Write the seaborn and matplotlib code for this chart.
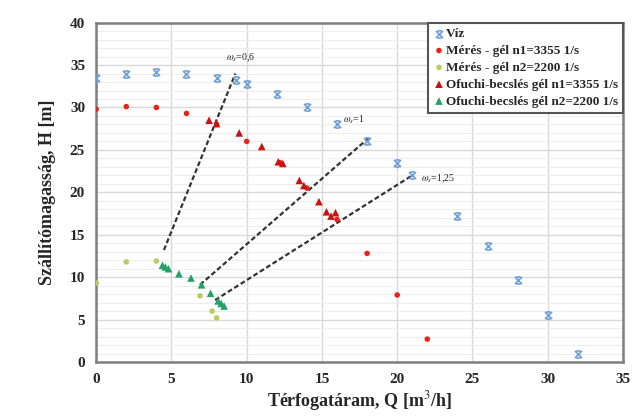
import matplotlib
matplotlib.use("Agg")
import matplotlib.pyplot as plt
import seaborn as sns
import numpy as np
import pandas as pd
from matplotlib.ticker import MultipleLocator
from matplotlib.path import Path

# ---- data ----
viz_q = [0, 2, 4, 6, 8, 9.3, 10, 12, 14, 16, 18, 20, 21, 24, 26, 28, 30, 32]
viz_h = [33.5, 34.0, 34.2, 34.0, 33.5, 33.2, 32.8, 31.6, 30.1, 28.1, 26.0, 23.5, 22.0, 17.2, 13.7, 9.7, 5.5, 0.9]

m1_q = [0, 2, 4, 6, 8, 10, 12.2, 14, 16, 18, 20, 22]
m1_h = [29.8, 30.1, 30.0, 29.3, 28.0, 26.0, 23.5, 20.5, 16.8, 12.8, 7.9, 2.7]

m2_q = [0, 2, 4, 6.9, 7.7, 8.0]
m2_h = [9.3, 11.8, 11.9, 7.8, 6.0, 5.2]

o1_q = [7.5, 8.0, 9.5, 11.0, 12.1, 12.4, 13.5, 13.8, 14.8, 15.3, 15.6, 15.9]
o1_h = [28.5, 28.1, 27.0, 25.4, 23.6, 23.4, 21.4, 20.8, 18.9, 17.7, 17.2, 17.6]

o2_q = [4.4, 4.6, 4.8, 5.5, 6.3, 7.0, 7.6, 8.1, 8.3, 8.5]
o2_h = [11.4, 11.2, 11.0, 10.4, 9.9, 9.1, 8.1, 7.2, 6.9, 6.6]

omega_labels = [r"$\omega_s$=0,6", r"$\omega_s$=1", r"$\omega_s$=1,25"]
omega_q = [[4.5, 9.25], [6.9, 18.1], [7.9, 21.0]]
omega_h = [[13.2, 34.0], [9.1, 26.4], [7.3, 22.0]]
omega_text_pos = [(8.6, 35.8), (16.4, 28.6), (21.6, 21.6)]

series_names = ["Víz", "Mérés - gél n1=3355 1/s", "Mérés - gél n2=2200 1/s",
                "Ofuchi-becslés gél n1=3355 1/s", "Ofuchi-becslés gél n2=2200 1/s"]

# x marker with short caps at top and bottom (Excel-like)
hourglass = Path(
    [(-1, -1), (1, 1), (-1, 1), (1, -1), (-0.6, 1), (0.6, 1), (-0.6, -1), (0.6, -1)],
    [Path.MOVETO, Path.LINETO, Path.MOVETO, Path.LINETO,
     Path.MOVETO, Path.LINETO, Path.MOVETO, Path.LINETO])

sns.set_theme(style="white")
plt.rcParams["font.family"] = ["Liberation Serif", "DejaVu Serif"]
plt.rcParams["mathtext.fontset"] = "stix"

fig = plt.figure(figsize=(6.37, 4.19), dpi=100)
ax = fig.add_axes([0.151, 0.136, 0.827, 0.810])

specs = [
    (viz_q, viz_h, hourglass, "#6f9fd8", 26),
    (m1_q, m1_h, "o", "#e8231c", 16),
    (m2_q, m2_h, "o", "#b5cf5a", 16),
    (o1_q, o1_h, "^", "#cc1111", 30),
    (o2_q, o2_h, "^", "#22a266", 30),
]
for (q, h, mk, col, s), name in zip(specs, series_names):
    df = pd.DataFrame({"Q": q, "H": h})
    is_line = not isinstance(mk, str)
    sns.scatterplot(data=df, x="Q", y="H", ax=ax, marker=mk, color=col, s=s,
                    linewidth=1.2 if is_line else 0,
                    edgecolor=col if is_line else "none",
                    label=name, zorder=3)

for qs, hs, lab, (tx, ty) in zip(omega_q, omega_h, omega_labels, omega_text_pos):
    ax.plot(qs, hs, linestyle=(0, (2.2, 1.2)), color="#333333", lw=1.6, zorder=2)
    ax.text(tx, ty, lab, fontsize=7, ha="left", va="center", color="#222222")

ax.set_xlim(0, 35)
ax.set_ylim(0, 40)
ax.xaxis.set_major_locator(MultipleLocator(5))
ax.yaxis.set_major_locator(MultipleLocator(5))
ax.yaxis.set_minor_locator(MultipleLocator(1))
ax.grid(True, which="major", color="#d9d9d9", lw=1.0)
ax.grid(True, which="minor", axis="y", color="#eeeeee", lw=0.8)
ax.set_axisbelow(True)

for sp in ax.spines.values():
    sp.set_color("#7f7f7f")
    sp.set_linewidth(1.8)

ax.tick_params(axis="both", which="both", length=0, pad=8, labelsize=11)
for lbl in ax.get_xticklabels() + ax.get_yticklabels():
    lbl.set_fontweight("bold")

ax.set_xlabel("Térfogatáram, Q [m$^3$/h]", fontsize=13, fontweight="bold", labelpad=2)
ax.set_ylabel("Szállítómagasság, H [m]", fontsize=13, fontweight="bold", labelpad=10)

leg = ax.legend(loc="upper right", bbox_to_anchor=(1.0, 1.0),
                frameon=True, fancybox=False, borderaxespad=0.0,
                handletextpad=0.1, handlelength=0.8, labelspacing=0.35,
                borderpad=0.4, prop={"weight": "bold", "size": 9.5})
leg.get_frame().set_edgecolor("#555555")
leg.get_frame().set_linewidth(1.5)
leg.get_frame().set_alpha(1)

fig.savefig("out.png", dpi=100)
